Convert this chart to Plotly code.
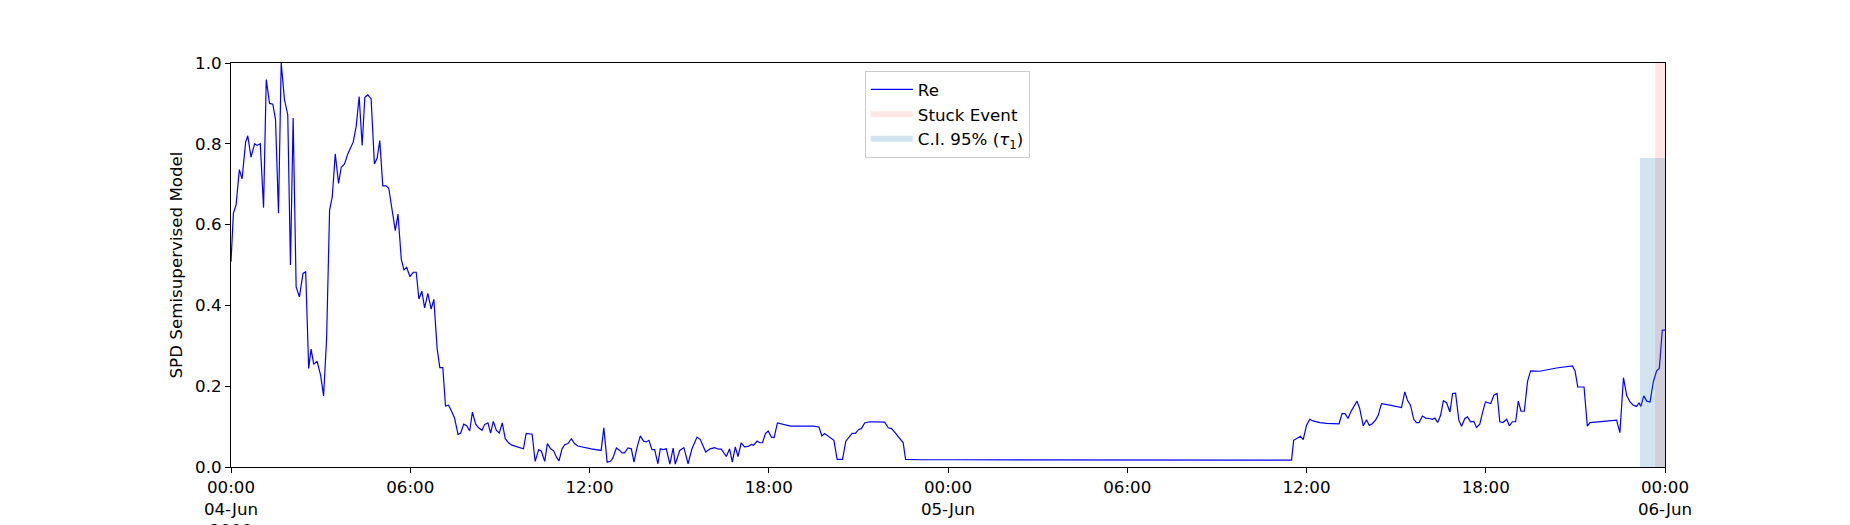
import pandas as pd
import plotly.graph_objects as go

# hours since 04-Jun 00:00 and the model score
hours = [
    0.00, 0.08, 0.17, 0.28, 0.37, 0.49, 0.56, 0.67, 0.79, 0.87, 0.98, 1.09, 1.18, 1.29, 1.40, 1.49,
    1.59, 1.68, 1.79, 1.90, 1.99, 2.08, 2.18, 2.29, 2.41, 2.50, 2.60, 2.68, 2.77, 2.88, 3.00, 3.10,
    3.20, 3.30, 3.39, 3.49, 3.60, 3.69, 3.80, 3.91, 4.09, 4.19, 4.29, 4.39, 4.48, 4.58, 4.69, 4.80,
    4.89, 4.98, 5.08, 5.19, 5.28, 5.40, 5.50, 5.59, 5.70, 5.79, 5.88, 5.99, 6.10, 6.20, 6.29, 6.39,
    6.48, 6.59, 6.70, 6.79, 6.90, 6.99, 7.09, 7.18, 7.28, 7.37, 7.48, 7.60, 7.69, 7.79, 7.89, 7.99,
    8.08, 8.19, 8.29, 8.40, 8.49, 8.60, 8.69, 8.78, 8.88, 8.98, 9.08, 9.18, 9.29, 9.40, 9.55, 9.68,
    9.79, 9.88, 9.99, 10.08, 10.18, 10.30, 10.39, 10.50, 10.59, 10.70, 10.80, 10.89, 10.98, 11.08,
    11.17, 11.28, 11.39, 11.50, 11.61, 11.84, 12.06, 12.39, 12.48, 12.59, 12.70, 12.78, 12.90,
    13.01, 13.09, 13.17, 13.29, 13.40, 13.49, 13.59, 13.70, 13.81, 13.90, 13.99, 14.09, 14.18,
    14.29, 14.37, 14.46, 14.57, 14.69, 14.80, 14.87, 15.02, 15.16, 15.30, 15.43, 15.60, 15.71,
    15.89, 16.04, 16.19, 16.32, 16.41, 16.58, 16.69, 16.78, 16.88, 16.97, 17.08, 17.19, 17.31,
    17.42, 17.49, 17.61, 17.70, 17.79, 17.89, 17.98, 18.09, 18.18, 18.29, 18.48, 18.73, 19.14,
    19.48, 19.68, 19.78, 19.87, 19.98, 20.10, 20.18, 20.29, 20.47, 20.58, 20.68, 20.79, 20.90,
    21.01, 21.10, 21.21, 21.38, 21.61, 21.88, 22.00, 22.11, 22.25, 22.39, 22.50, 22.58, 23.05,
    24.16, 30.00, 35.50, 35.57, 35.69, 35.80, 35.89, 36.00, 36.11, 36.22, 36.45, 36.67, 37.09,
    37.19, 37.29, 37.39, 37.48, 37.58, 37.69, 37.78, 37.90, 38.01, 38.10, 38.20, 38.31, 38.40,
    38.51, 38.79, 39.18, 39.29, 39.38, 39.48, 39.59, 39.68, 39.77, 39.88, 39.99, 40.10, 40.21,
    40.30, 40.39, 40.49, 40.58, 40.69, 40.80, 40.89, 40.99, 41.10, 41.19, 41.30, 41.39, 41.49,
    41.60, 41.69, 41.80, 41.89, 41.99, 42.08, 42.17, 42.27, 42.38, 42.47, 42.58, 42.70, 42.79,
    42.89, 43.00, 43.09, 43.18, 43.29, 43.40, 43.50, 43.81, 44.37, 44.90, 44.99, 45.08, 45.29,
    45.40, 45.49, 45.94, 46.38, 46.49, 46.61, 46.72, 46.83, 46.94, 47.05, 47.13, 47.19, 47.29,
    47.39, 47.50, 47.61, 47.72, 47.81, 47.91, 48.00,
]
re_values = [
    0.508, 0.628, 0.649, 0.736, 0.713, 0.804, 0.820, 0.767, 0.800, 0.796, 0.800, 0.642, 0.959, 0.900, 0.898, 0.860,
    0.628, 1.000, 0.909, 0.872, 0.500, 0.864, 0.446, 0.421, 0.479, 0.483, 0.244, 0.292, 0.254, 0.262, 0.227, 0.176,
    0.318, 0.636, 0.669, 0.775, 0.702, 0.742, 0.750, 0.775, 0.804, 0.843, 0.917, 0.796, 0.915, 0.921, 0.911, 0.750,
    0.764, 0.808, 0.696, 0.696, 0.690, 0.638, 0.585, 0.626, 0.514, 0.488, 0.494, 0.471, 0.482, 0.482, 0.416, 0.435,
    0.394, 0.430, 0.391, 0.415, 0.293, 0.246, 0.246, 0.151, 0.153, 0.140, 0.122, 0.081, 0.084, 0.106, 0.102, 0.089,
    0.136, 0.106, 0.097, 0.091, 0.105, 0.109, 0.084, 0.113, 0.091, 0.084, 0.109, 0.070, 0.060, 0.054, 0.050, 0.047,
    0.045, 0.083, 0.081, 0.081, 0.014, 0.043, 0.039, 0.014, 0.058, 0.045, 0.040, 0.025, 0.015, 0.045,
    0.055, 0.058, 0.070, 0.058, 0.052, 0.048, 0.045, 0.041, 0.097, 0.012, 0.014, 0.022, 0.047,
    0.041, 0.035, 0.035, 0.047, 0.045, 0.012, 0.048, 0.077, 0.064, 0.062, 0.066, 0.043, 0.043,
    0.008, 0.045, 0.043, 0.045, 0.007, 0.047, 0.007, 0.041, 0.048, 0.008, 0.045, 0.074, 0.068,
    0.037, 0.045, 0.048, 0.044, 0.044, 0.026, 0.045, 0.012, 0.050, 0.026, 0.060, 0.050, 0.051,
    0.056, 0.054, 0.064, 0.060, 0.060, 0.083, 0.089, 0.074, 0.073, 0.109, 0.106, 0.101, 0.101,
    0.101, 0.099, 0.077, 0.083, 0.077, 0.070, 0.066, 0.019, 0.019, 0.064, 0.073, 0.083, 0.083,
    0.093, 0.095, 0.109, 0.112, 0.112, 0.111, 0.097, 0.095, 0.083, 0.070, 0.060, 0.019, 0.018,
    0.018, 0.017, 0.017, 0.066, 0.072, 0.076, 0.068, 0.103, 0.118, 0.114, 0.110, 0.108, 0.107,
    0.132, 0.132, 0.120, 0.136, 0.150, 0.163, 0.145, 0.102, 0.117, 0.103, 0.107, 0.116, 0.128,
    0.157, 0.153, 0.147, 0.186, 0.165, 0.153, 0.118, 0.110, 0.110, 0.126, 0.121, 0.120, 0.118,
    0.121, 0.110, 0.128, 0.164, 0.159, 0.136, 0.182, 0.183, 0.116, 0.101, 0.120, 0.124, 0.112,
    0.113, 0.098, 0.106, 0.134, 0.161, 0.159, 0.157, 0.178, 0.182, 0.112, 0.110, 0.118, 0.102,
    0.112, 0.112, 0.163, 0.138, 0.138, 0.212, 0.238, 0.237, 0.245, 0.250, 0.238, 0.198, 0.198,
    0.101, 0.110, 0.113, 0.116, 0.085, 0.221, 0.176, 0.161, 0.153, 0.150, 0.159, 0.150, 0.176,
    0.163, 0.161, 0.211, 0.238, 0.244, 0.339, 0.339,
]

# stuck event and confidence interval windows (hours since 04-Jun 00:00)
stuck_hours = [47.67, 48.0]
stuck_level = [1.0, 1.0]
ci_hours = [47.16, 48.0]
ci_level = [0.765, 0.765]

tick_hours = [0, 6, 12, 18, 24, 30, 36, 42, 48]
tick_labels = ['00:00<br>04-Jun<br>1900', '06:00', '12:00', '18:00', '00:00<br>05-Jun',
               '06:00', '12:00', '18:00', '00:00<br>06-Jun']

base = pd.Timestamp('1900-06-04 00:00')
to_time = lambda h: base + pd.to_timedelta(pd.Series(h, dtype=float), unit='h')

fig = go.Figure()

fig.add_trace(go.Scatter(
    x=to_time(hours), y=re_values, mode='lines', name='Re',
    line=dict(color='#0000ff', width=1.2), hoverinfo='skip'
))
fig.add_trace(go.Scatter(
    x=to_time(stuck_hours), y=stuck_level, mode='none', name='Stuck Event',
    fill='tozeroy', fillcolor='rgba(255,0,0,0.1)', hoverinfo='skip'
))
fig.add_trace(go.Scatter(
    x=to_time(ci_hours), y=ci_level, mode='none', name='C.I. 95% (<i>τ</i><sub>1</sub>)',
    fill='tozeroy', fillcolor='rgba(31,119,180,0.2)', hoverinfo='skip'
))

font = dict(family='DejaVu Sans', size=16.7, color='black')

# page body adds 8px, so the figure is a bit smaller than the window
fig.update_layout(
    width=1842, height=517,
    margin=dict(l=223, r=185, t=55, b=58),
    plot_bgcolor='white', paper_bgcolor='white',
    font=font,
    showlegend=True,
    legend=dict(
        x=0.442, y=0.98, xanchor='left', yanchor='top',
        bordercolor='#cccccc', borderwidth=1, bgcolor='white',
        font=font, traceorder='normal', itemwidth=42
    ),
    xaxis=dict(
        range=[base, base + pd.Timedelta(hours=48)],
        tickvals=list(to_time(tick_hours)), ticktext=tick_labels,
        showgrid=False, zeroline=False, showline=True, linecolor='black', linewidth=1,
        mirror=True, ticks='outside', ticklen=5, tickcolor='black', tickangle=0,
        automargin=False
    ),
    yaxis=dict(
        range=[0, 1], tickvals=[0, 0.2, 0.4, 0.6, 0.8, 1.0], tickformat='.1f',
        showgrid=False, zeroline=False, showline=True, linecolor='black', linewidth=1,
        mirror=True, ticks='outside', ticklen=5, tickcolor='black',
        title=dict(text='SPD Semisupervised Model', font=font, standoff=8),
        automargin=False
    ),
)

fig.write_html("out.html")
